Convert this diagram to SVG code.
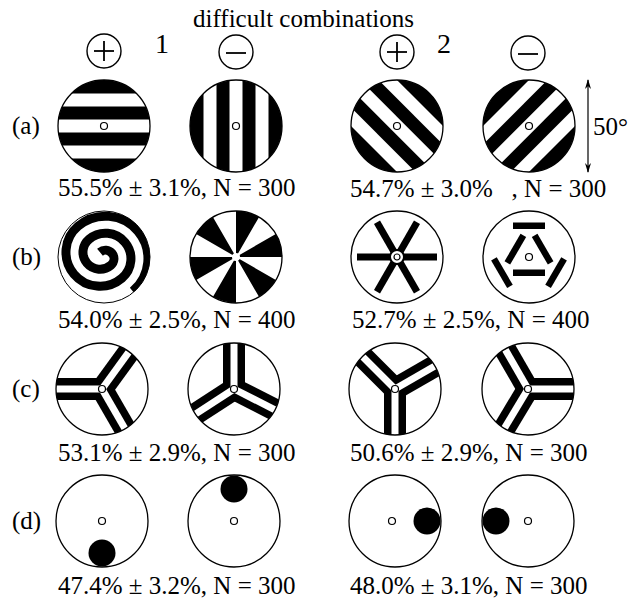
<svg xmlns="http://www.w3.org/2000/svg" xmlns:xlink="http://www.w3.org/1999/xlink" width="634" height="602" viewBox="0 0 634 602">
<style>
text{font-family:"Liberation Serif","Times New Roman",serif;fill:#000}
.t{font-family:"Liberation Serif","Times New Roman",serif;font-size:25px}
.rim{fill:none;stroke:#000;stroke-width:1.3}
.blk{fill:#000}
.wht{fill:#fff}
.dot{fill:#fff;stroke:#000;stroke-width:1.2}
.sym{fill:none;stroke:#000;stroke-width:1.4}
.symL{stroke:#000;stroke-width:1.8}
</style>
<defs>
<clipPath id="cc"><circle cx="0" cy="0" r="46"/></clipPath>
<g id="stripes">
<rect x="-50" y="-50" width="100" height="17.5"/>
<rect x="-50" y="-19.5" width="100" height="13"/>
<rect x="-50" y="6.5" width="100" height="13"/>
<rect x="-50" y="32.5" width="100" height="17.5"/>
</g>
<g id="spoke"><rect x="0" y="-11" width="52" height="22" class="blk"/></g>
<g id="chan"><rect x="0" y="-3.5" width="52" height="7" class="wht"/></g>
<marker id="ah" viewBox="0 0 10 6" refX="9" refY="3" markerWidth="10" markerHeight="6" markerUnits="userSpaceOnUse" orient="auto-start-reverse">
<path d="M0,0 L10,3 L0,6 L3,3 Z" fill="#000"/>
</marker>
</defs>
<rect width="634" height="602" fill="#fff"/>

<g id="header">
<text x="193" y="27" font-family="Liberation Serif, serif" font-size="25">difficult combinations</text>
<g id="plus1"><circle cx="104" cy="51" r="17" class="sym"/><line x1="94" y1="51" x2="114" y2="51" class="symL"/><line x1="104" y1="41" x2="104" y2="61" class="symL"/></g>
<text x="155" y="53" font-family="Liberation Serif, serif" font-size="28">1</text>
<g id="minus1"><circle cx="236" cy="52" r="17" class="sym"/><line x1="226" y1="53" x2="246" y2="53" class="symL"/></g>
<g id="plus2"><circle cx="397" cy="52" r="17" class="sym"/><line x1="387" y1="52" x2="407" y2="52" class="symL"/><line x1="397" y1="42" x2="397" y2="62" class="symL"/></g>
<text x="437" y="53" font-family="Liberation Serif, serif" font-size="28">2</text>
<g id="minus2"><circle cx="528" cy="53" r="17" class="sym"/><line x1="518" y1="54" x2="538" y2="54" class="symL"/></g>
</g>

<g id="row-labels">
<text x="12" y="134" class="t">(a)</text>
<text x="12" y="265" class="t">(b)</text>
<text x="12" y="397" class="t">(c)</text>
<text x="12" y="529" class="t">(d)</text>
</g>

<!-- Row a -->
<g id="a1" transform="translate(104,126)">
<g clip-path="url(#cc)"><use href="#stripes"/></g>
<circle r="46" class="rim"/><circle r="3.5" class="dot"/>
</g>
<g id="a2" transform="translate(236,126)">
<g clip-path="url(#cc)"><use href="#stripes" transform="rotate(90)"/></g>
<circle r="46" class="rim"/><circle r="3.5" class="dot"/>
</g>
<g id="a3" transform="translate(397,126)">
<g clip-path="url(#cc)"><use href="#stripes" transform="rotate(45)"/></g>
<circle r="46" class="rim"/><circle r="3.5" class="dot"/>
</g>
<g id="a4" transform="translate(529,126)">
<g clip-path="url(#cc)"><use href="#stripes" transform="rotate(-45)"/></g>
<circle r="46" class="rim"/><circle r="3.5" class="dot"/>
</g>

<!-- Row b -->
<g id="b1" transform="translate(104,257)">
<g clip-path="url(#cc)">
<path transform="rotate(50) scale(-1,1)" d="M6.25,0 A8.5,8.5 0 0 0 -10.75,0 A17,17 0 0 0 23.25,0 A25.5,25.5 0 0 0 -27.75,0 A34,34 0 0 0 40.25,0 A42.5,42.5 0 0 0 -44.75,0" fill="none" stroke="#000" stroke-width="9"/>
</g>
<circle r="46" fill="none" stroke="#000" stroke-width="1"/>
</g>
<g id="b2" transform="translate(236,257)">
<path class="blk" d="M0,0 L0,-46 A46,46 0 0 1 23,-39.84 Z M0,0 L39.84,-23 A46,46 0 0 1 46,0 Z M0,0 L39.84,23 A46,46 0 0 1 23,39.84 Z M0,0 L0,46 A46,46 0 0 1 -23,39.84 Z M0,0 L-39.84,23 A46,46 0 0 1 -46,0 Z M0,0 L-39.84,-23 A46,46 0 0 1 -23,-39.84 Z"/>
<circle r="46" class="rim"/><circle r="4" class="wht"/>
</g>
<g id="b3" transform="translate(397,257)">
<rect x="-40" y="-3.5" width="80" height="7" class="blk"/>
<rect x="-40" y="-3.5" width="80" height="7" class="blk" transform="rotate(60)"/>
<rect x="-40" y="-3.5" width="80" height="7" class="blk" transform="rotate(120)"/>
<circle r="7" fill="#fff" stroke="#000" stroke-width="2"/>
<circle r="3" class="dot"/>
<circle r="46" class="rim"/>
</g>
<g id="b4" transform="translate(529,257)">
<g id="pair">
<rect x="-16" y="12.5" width="32" height="6.5" class="blk"/>
<rect x="-16" y="-34.5" width="32" height="6.5" class="blk"/>
</g>
<use href="#pair" transform="rotate(120)"/>
<use href="#pair" transform="rotate(240)"/>
<circle r="3.5" class="dot"/>
<circle r="46" class="rim"/>
</g>

<!-- Row c -->
<g id="c1" transform="translate(102,389)">
<g clip-path="url(#cc)">
<use href="#spoke" transform="rotate(180)"/><use href="#spoke" transform="rotate(-54)"/><use href="#spoke" transform="rotate(60)"/>
<use href="#chan" transform="rotate(180)"/><use href="#chan" transform="rotate(-54)"/><use href="#chan" transform="rotate(60)"/>
</g>
<circle r="46" class="rim"/><circle r="3.5" class="dot"/>
</g>
<g id="c2" transform="translate(234,389)">
<g clip-path="url(#cc)">
<use href="#spoke" transform="rotate(-90)"/><use href="#spoke" transform="rotate(147)"/><use href="#spoke" transform="rotate(27)"/>
<use href="#chan" transform="rotate(-90)"/><use href="#chan" transform="rotate(147)"/><use href="#chan" transform="rotate(27)"/>
</g>
<circle r="46" class="rim"/><circle r="3.5" class="dot"/>
</g>
<g id="c3" transform="translate(395,389)">
<g clip-path="url(#cc)">
<use href="#spoke" transform="rotate(90)"/><use href="#spoke" transform="rotate(-135)"/><use href="#spoke" transform="rotate(-30)"/>
<use href="#chan" transform="rotate(90)"/><use href="#chan" transform="rotate(-135)"/><use href="#chan" transform="rotate(-30)"/>
</g>
<circle r="46" class="rim"/><circle r="3.5" class="dot"/>
</g>
<g id="c4" transform="translate(528,389)">
<g clip-path="url(#cc)">
<use href="#spoke"/><use href="#spoke" transform="rotate(-120)"/><use href="#spoke" transform="rotate(121)"/>
<use href="#chan"/><use href="#chan" transform="rotate(-120)"/><use href="#chan" transform="rotate(121)"/>
</g>
<circle r="46" class="rim"/><circle r="3.5" class="dot"/>
</g>

<!-- Row d -->
<g id="d1" transform="translate(102,521)">
<circle r="46" class="rim"/><circle r="3.5" class="dot"/><circle cx="0" cy="32" r="13.5" class="blk"/>
</g>
<g id="d2" transform="translate(234,521)">
<circle r="46" class="rim"/><circle r="3.5" class="dot"/><circle cx="0" cy="-32" r="13.5" class="blk"/>
</g>
<g id="d3" transform="translate(395,521)">
<circle r="46" class="rim"/><circle cx="-3" r="3.5" class="dot"/><circle cx="32" cy="0" r="13.5" class="blk"/>
</g>
<g id="d4" transform="translate(528,521)">
<circle r="46" class="rim"/><circle r="3.5" class="dot"/><circle cx="-32" cy="0" r="13.5" class="blk"/>
</g>

<g id="connectors">
<line x1="588" y1="80" x2="588" y2="172" stroke="#000" stroke-width="1.2" marker-start="url(#ah)" marker-end="url(#ah)"/>
</g>
<text x="593" y="135" class="t">50°</text>

<g id="results">
<text x="58" y="196" class="t">55.5% ± 3.1%, N = 300</text>
<text x="350" y="197" class="t" xml:space="preserve">54.7% ± 3.0%   , N = 300</text>
<text x="58" y="328" class="t">54.0% ± 2.5%, N = 400</text>
<text x="352" y="328" class="t">52.7% ± 2.5%, N = 400</text>
<text x="58" y="461" class="t">53.1% ± 2.9%, N = 300</text>
<text x="350" y="461" class="t">50.6% ± 2.9%, N = 300</text>
<text x="58" y="594" class="t">47.4% ± 3.2%, N = 300</text>
<text x="350" y="594" class="t">48.0% ± 3.1%, N = 300</text>
</g>
</svg>
